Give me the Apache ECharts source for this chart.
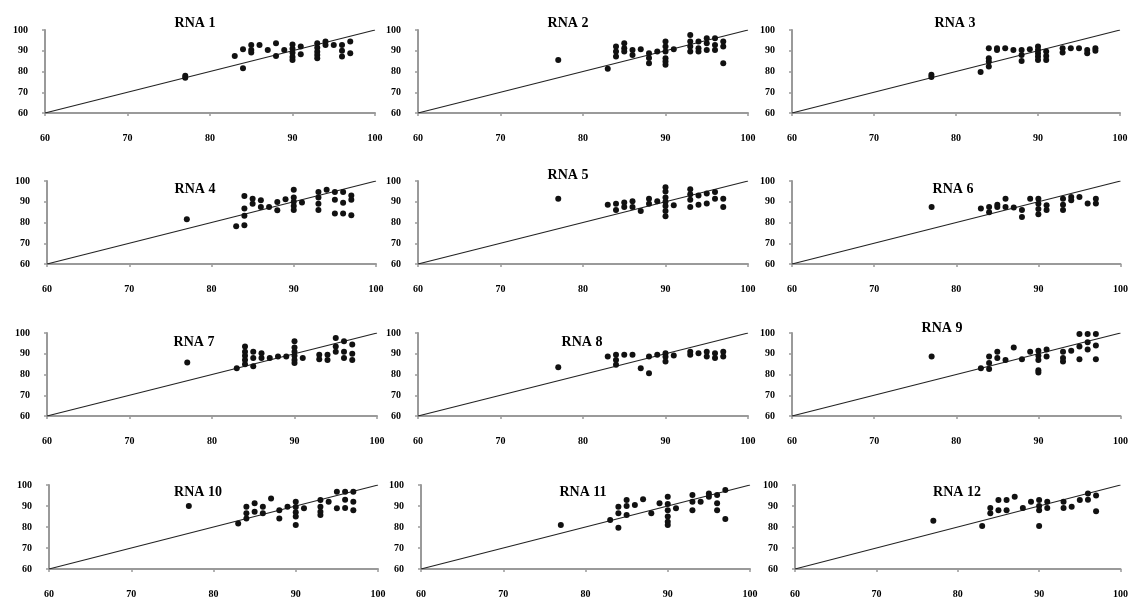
<!DOCTYPE html>
<html>
<head>
<meta charset="utf-8">
<script src="https://cdn.jsdelivr.net/npm/echarts@6/dist/echarts.min.js"></script>
<style>
html,body{margin:0;padding:0;background:#fff;}
#c{width:1131px;height:603px;}
</style>
</head>
<body>
<div id="c"></div>
<script>
const titles = ['RNA 1','RNA 2','RNA 3','RNA 4','RNA 5','RNA 6','RNA 7','RNA 8','RNA 9','RNA 10','RNA 11','RNA 12'];
const ticks = [60, 70, 80, 90, 100];
const diagonal = [[60, 60], [100, 100]];

const rna1 = [[77,78],[77,77],[83,87.5],[84,90.7],[84,81.6],[85,92.8],[85,90.4],[85,89.1],[86,92.8],[87,90.4],[88,93.6],[88,87.5],[89,90.4],[90,93],[90,91],[90,89],[90,87],[90,85.6],[91,92],[91,88.3],[93,93.6],[93,91.5],[93,89.5],[93,88],[93,86.4],[94,94.4],[94,92.8],[95,92.8],[96,92.8],[96,90],[96,87.2],[97,94.4],[97,88.8]];
const rna2 = [[77,85.6],[83,81.3],[84,92],[84,89.6],[84,87.2],[85,93.6],[85,91.2],[85,89.6],[86,90.4],[86,88],[87,90.7],[88,88.8],[88,86.5],[88,84],[89,89.6],[90,94.4],[90,92],[90,89.6],[90,86.4],[90,84.8],[90,83.2],[91,90.7],[93,97.6],[93,94.4],[93,92],[93,89.6],[94,94.4],[94,91.2],[94,89.6],[95,96],[95,93.6],[95,90.4],[96,96],[96,92.8],[96,90.4],[97,94.4],[97,92],[97,84]];
const rna3 = [[77,78.4],[77,77.3],[83,79.7],[84,91.2],[84,86.4],[84,84.8],[84,82.4],[85,91.2],[85,90.4],[86,91.2],[87,90.4],[88,90.4],[88,88],[88,85.1],[89,90.7],[90,92],[90,90.4],[90,88.8],[90,87.2],[90,85.6],[91,89.6],[91,87.5],[91,85.6],[93,91.2],[93,89.1],[94,91.2],[95,91.2],[96,90.4],[96,88.8],[97,91.2],[97,90]];
const rna4 = [[77,81.6],[83,78.2],[84,92.8],[84,86.7],[84,83.2],[84,78.7],[85,91.5],[85,89],[86,90.7],[86,87.5],[87,87.5],[88,89.9],[88,85.9],[89,91.2],[90,95.8],[90,92],[90,90],[90,88],[90,86],[91,89.6],[93,94.7],[93,92],[93,89],[93,86],[94,95.8],[95,94.7],[95,91],[95,84.3],[96,94.7],[96,89.5],[96,84.3],[97,93],[97,91],[97,83.5]];
const rna5 = [[77,91.5],[83,88.6],[84,89],[84,86],[85,89.6],[85,87.5],[86,90.2],[86,87.5],[87,85.6],[88,91.5],[88,89],[89,90.2],[90,97],[90,95],[90,92],[90,90],[90,88],[90,85.5],[90,83],[91,88.3],[93,96],[93,93.6],[93,91],[93,87.5],[94,93],[94,88.6],[95,94],[95,89.1],[96,94.7],[96,91.5],[97,91.5],[97,87.5]];
const rna6 = [[77,87.5],[83,86.7],[84,87.5],[84,85],[85,88.6],[85,87.5],[86,91.5],[86,87.5],[87,87.2],[88,86],[88,82.7],[89,91.5],[90,91.5],[90,89],[90,86.5],[90,84],[91,88.3],[91,86],[93,91.5],[93,88.5],[93,86],[94,92.3],[94,90.7],[95,92.3],[96,89.1],[97,91.5],[97,89.1]];
const rna7 = [[77,85.8],[83,83],[84,93.5],[84,91],[84,89],[84,87],[84,85],[85,91],[85,88],[85,84],[86,90.3],[86,88],[87,88],[88,88.7],[89,88.7],[90,96],[90,93],[90,91],[90,89],[90,87],[90,85.5],[91,88],[93,89.5],[93,87.4],[94,89.5],[94,87],[95,97.6],[95,93.5],[95,91],[96,96],[96,91],[96,88],[97,94.4],[97,90],[97,87]];
const rna8 = [[77,83.5],[83,88.7],[84,89.5],[84,87],[84,84.7],[85,89.5],[86,89.5],[87,83],[88,88.7],[88,80.6],[89,89.5],[90,90.3],[90,88.5],[90,86.3],[91,89.2],[93,91],[93,89.5],[94,90.3],[95,91],[95,88.7],[96,90.3],[96,88],[97,91],[97,88.7]];
const rna9 = [[77,88.7],[83,83],[84,88.7],[84,85.5],[84,82.7],[85,91],[85,88],[86,87],[87,93],[88,87.4],[89,91],[90,91.5],[90,89],[90,87],[90,82],[90,81],[91,92],[91,88.7],[93,91],[93,88],[93,86.3],[94,91.5],[95,99.5],[95,93.5],[95,87.4],[96,99.5],[96,95.5],[96,92],[97,99.5],[97,94],[97,87.4]];
const rna10 = [[77,90],[83,81.7],[84,89.7],[84,86.5],[84,84],[85,91.3],[85,87.3],[86,89.7],[86,86.5],[87,93.6],[88,88],[88,84],[89,89.7],[90,92],[90,89.5],[90,87],[90,85],[90,81],[91,88.9],[93,92.9],[93,89.7],[93,87.3],[93,85.7],[94,92],[95,96.8],[95,88.9],[96,96.8],[96,93],[96,89],[97,96.8],[97,92],[97,88]];
const rna11 = [[77,81],[83,83.3],[84,89.7],[84,86.5],[84,79.7],[85,92.9],[85,90],[85,85.7],[86,90.5],[87,93.2],[88,86.5],[89,91.3],[90,94.4],[90,91],[90,88],[90,85],[90,82.5],[90,81],[91,88.9],[93,95.2],[93,92],[93,88],[94,92],[95,96],[95,94.4],[96,95.2],[96,91.3],[96,88],[97,97.6],[97,83.8]];
const rna12 = [[77,83],[83,80.5],[84,89],[84,86.5],[85,92.9],[85,88],[86,92.9],[86,88],[87,94.4],[88,89],[89,92],[90,92.9],[90,90],[90,88],[90,80.5],[91,92],[91,89],[93,92],[93,89],[94,89.7],[95,92.9],[96,96],[96,93],[97,95],[97,87.5]];

const panels = [rna1, rna2, rna3, rna4, rna5, rna6, rna7, rna8, rna9, rna10, rna11, rna12];

// layout (pixels): grid boxes and title centres
const gridBoxes = [
  [45,30,330,83],[418,30,330,83],[792,30,328,83],
  [47,181,329,83],[418,181,330,83],[792,181,329,83],
  [47,333,330,83],[418,333,330,83],[792,333,329,83],
  [49,485,329,84],[421,485,329,84],[795,485,328,84]
];
const titlePos = [
  [190,18],[563,18],[950,18],
  [190,184],[563,170],[948,184],
  [189,337],[577,337],[937,323],
  [193,487],[578,487],[952,487]
];

const chart = echarts.init(document.getElementById('c'));
const grid = [], xAxis = [], yAxis = [], series = [], title = [];
const labelStyle = {color:'#000', fontSize:10, fontWeight:'bold', fontFamily:'Liberation Serif'};
panels.forEach((pts, i) => {
  const b = gridBoxes[i];
  grid.push({left:b[0], top:b[1], width:b[2], height:b[3]});
  const axisCommon = {
    min: ticks[0], max: ticks[ticks.length-1], interval: ticks[1]-ticks[0],
    gridIndex: i,
    axisLine: {show:true, onZero:false, lineStyle:{color:'#9a9a9a', width:2}},
    axisTick: {show:true, length:3, lineStyle:{color:'#9a9a9a', width:1.5}},
    splitLine: {show:false}
  };
  xAxis.push(Object.assign({type:'value', axisLabel:Object.assign({margin:20}, labelStyle)}, axisCommon));
  yAxis.push(Object.assign({type:'value', axisLabel:Object.assign({margin:17}, labelStyle)}, axisCommon));
  series.push({
    type:'line', xAxisIndex:i, yAxisIndex:i, data:diagonal, symbol:'none', silent:true,
    lineStyle:{color:'#222', width:1.2}, z:1
  });
  series.push({
    type:'scatter', xAxisIndex:i, yAxisIndex:i, data:pts, symbol:'circle', symbolSize:6,
    itemStyle:{color:'#111', opacity:1}, z:2
  });
  title.push({
    text: titles[i], left: titlePos[i][0], top: titlePos[i][1], textAlign:'center', textVerticalAlign:'middle',
    textStyle:{color:'#000', fontSize:14, fontWeight:'bold', fontFamily:'Liberation Serif'}
  });
});

chart.setOption({
  animation:false,
  backgroundColor:'#fff',
  title, grid, xAxis, yAxis, series
});
</script>
</body>
</html>
